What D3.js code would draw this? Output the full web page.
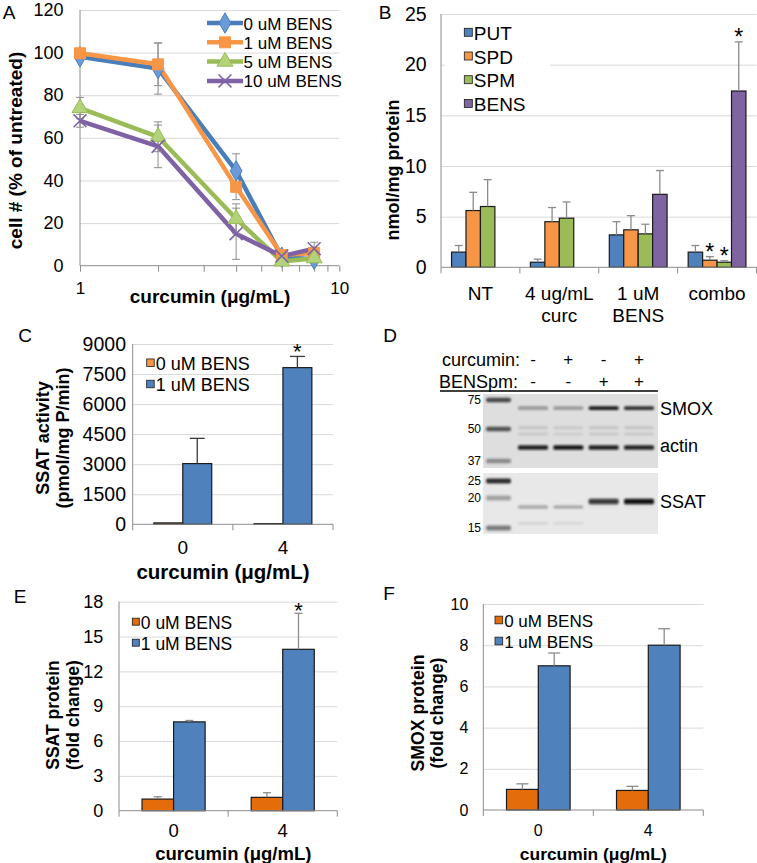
<!DOCTYPE html>
<html><head><meta charset="utf-8">
<script src="https://cdn.jsdelivr.net/npm/d3@7"></script>
<style>
body{margin:0;background:#fff;}
svg{display:block;}
</style></head><body>
<script>
// ================= DATA =================
// Panel A: cell number vs curcumin (log x)
const curcuminA = [1, 2, 4, 6, 8];
const legendA = ["0 uM BENS", "1 uM BENS", "5 uM BENS", "10 uM BENS"];
const cells0 = [98, 92.5, 44.5, 4, 3];
const cells1 = [99.7, 94.5, 37, 5, 6];
const cells5 = [74, 60.5, 22, 2, 3.5];
const cells10 = [68, 56, 15, 4.5, 8];
const cellsErr0 = [1.5, 12, 8, 1.5, 1.5];
const cellsErr1 = [1.5, 10, 6, 1.5, 2];
const cellsErr5 = [5, 7, 7, 1, 1.5];
const cellsErr10 = [3, 10, 12, 1.5, 3];
const yTicksA = [0, 20, 40, 60, 80, 100, 120];
const xTicksA = [1, 2, 3, 4, 5, 6, 7, 8, 9, 10];
const xLabelsA = [1, 10];

// Panel B: polyamine pools
const treatmentsB = [["NT"], ["4 ug/mL", "curc"], ["1 uM", "BENS"], ["combo"]];
const polyaminesB = ["PUT", "SPD", "SPM", "BENS"];
const putB = [1.5, 0.5, 3.2, 1.5];
const spdB = [5.6, 4.5, 3.7, 0.7];
const spmB = [6.0, 4.85, 3.3, 0.5];
const bensB = [null, null, 7.2, 17.4];
const putErrB = [0.65, 0.3, 1.3, 0.65];
const spdErrB = [1.8, 1.4, 1.4, 0.35];
const spmErrB = [2.65, 1.6, 0.95, 0.15];
const bensErrB = [null, null, 2.35, 4.85];
const starsB = [[1, 3], [2, 3], [3, 3]]; // [series, category]
const yTicksB = [0, 5, 10, 15, 20, 25];

// Panel C: SSAT activity
const dosesC = [["0"], ["4"]];
const bensLegend = ["0 uM BENS", "1 uM BENS"];
const ssatAct0 = [70, 30];
const ssatAct1 = [3030, 7820];
const ssatActErr0 = [0, 0];
const ssatActErr1 = [1260, 560];
const starsC = [[1, 1]];
const yTicksC = [0, 1500, 3000, 4500, 6000, 7500, 9000];

// Panel D: western blot (relative band intensity per lane)
const blotLanes = [1, 2, 3, 4];
const curcuminSigns = ["-", "+", "-", "+"];
const bensSigns = ["-", "-", "+", "+"];
const ladderTop = [75, 50, 37];
const ladderBottom = [25, 20, 15];
const ladderTopIntensity = [0.8, 0.75, 0.45];
const ladderBottomIntensity = [0.95, 0.35, 0.55];
const smoxBand = [0.35, 0.3, 0.95, 0.85];
const nonspecA = [0.12, 0.1, 0.12, 0.12];
const nonspecB = [0.1, 0.08, 0.1, 0.1];
const actinBand = [0.92, 0.97, 0.92, 0.9];
const ssatBand = [0, 0, 0.8, 0.97];
const ssatLower = [0.35, 0.3, 0.03, 0.03];
const ssatFaint = [0.1, 0.08, 0, 0];

// Panel E: SSAT protein
const ssatProt0 = [1.0, 1.15];
const ssatProt1 = [7.65, 13.9];
const ssatProtErr0 = [0.2, 0.4];
const ssatProtErr1 = [0.12, 3.1];
const starsE = [[1, 1]];
const yTicksE = [0, 3, 6, 9, 12, 15, 18];

// Panel F: SMOX protein
const smoxProt0 = [1.0, 0.95];
const smoxProt1 = [7.0, 8.0];
const smoxProtErr0 = [0.27, 0.2];
const smoxProtErr1 = [0.62, 0.8];
const yTicksF = [0, 2, 4, 6, 8, 10];

// ================= DRAWING =================
const FONT = '"Liberation Sans", Arial, Helvetica, sans-serif';
const svg = d3.select('body').append('svg').attr('width', 757).attr('height', 863)
  .style('font-family', FONT);
const defs = svg.append('defs');
defs.append('filter').attr('id', 'blur').attr('x', '-20%').attr('y', '-100%').attr('width', '140%').attr('height', '300%')
  .append('feGaussianBlur').attr('stdDeviation', 0.9);

function txt(g, x, y, s, o = {}) {
  return g.append('text').attr('x', x).attr('y', y)
    .attr('font-size', o.size || 18)
    .attr('font-weight', o.bold ? 'bold' : null)
    .attr('text-anchor', o.anchor || 'middle')
    .attr('dominant-baseline', o.base || 'central')
    .attr('fill', o.fill || '#000')
    .attr('transform', o.rot ? `rotate(${o.rot},${x},${y})` : null)
    .text(s);
}
const AXIS = '#8c8c8c', GRID = '#d9d9d9';

// Panel letters
txt(svg, 9, 12, 'A', {size: 19});
txt(svg, 385, 12, 'B', {size: 19});
txt(svg, 25, 335, 'C', {size: 19});
txt(svg, 390, 335, 'D', {size: 19});
txt(svg, 20, 596, 'E', {size: 19});
txt(svg, 389, 593, 'F', {size: 19});

// ---------- Panel A ----------
(function () {
  const L = 80, R = 339.3, T = 10, B = 265.7;
  const g = svg.append('g');
  const x = d3.scaleLog().domain([1, 10]).range([L, R]);
  const y = d3.scaleLinear().domain([0, 120]).range([B, T]);
  g.append('g').attr('transform', `translate(${L},0)`)
    .call(d3.axisLeft(y).tickValues(yTicksA.slice(1)).tickSize(-(R - L)).tickFormat(''))
    .call(a => a.select('.domain').remove())
    .selectAll('line').attr('stroke', GRID);
  const ya = g.append('g').attr('transform', `translate(${L},0)`)
    .call(d3.axisLeft(y).tickValues(yTicksA).tickSize(0).tickPadding(16.5));
  ya.select('.domain').remove();
  ya.attr('font-size', 18).attr('font-family', FONT).selectAll('text').attr('fill', '#000');
  const xa = g.append('g').attr('transform', `translate(0,${B})`)
    .call(d3.axisBottom(x).tickValues(xTicksA).tickSize(6).tickPadding(10)
      .tickFormat(d => xLabelsA.includes(d) ? d : ''));
  xa.select('.domain').remove();
  xa.attr('font-size', 17).attr('font-family', FONT);
  xa.selectAll('line').attr('stroke', AXIS);
  xa.selectAll('text').attr('fill', '#000');
  g.append('line').attr('x1', L).attr('x2', R).attr('y1', B).attr('y2', B).attr('stroke', AXIS);
  g.append('line').attr('x1', L).attr('x2', L).attr('y1', T).attr('y2', B).attr('stroke', AXIS);

  const series = [
    {v: cells0, e: cellsErr0, color: '#4A7EBB', fill: '#6A9BD8', sym: d3.symbolDiamond, size: 120},
    {v: cells1, e: cellsErr1, color: '#F79646', fill: '#F79646', sym: d3.symbolSquare, size: 120},
    {v: cells5, e: cellsErr5, color: '#9BBB59', fill: '#B3D37A', sym: d3.symbolTriangle, size: 110},
    {v: cells10, e: cellsErr10, color: '#7F62A6', fill: 'none', sym: d3.symbolX, size: 110},
  ];
  const line = d3.line().x((d, i) => x(curcuminA[i])).y(d => y(d));
  series.forEach(s => {
    g.append('path').attr('d', line(s.v)).attr('fill', 'none').attr('stroke', s.color)
      .attr('stroke-width', 4.5).attr('stroke-linejoin', 'round');
  });
  series.forEach(s => {
    s.v.forEach((v, i) => {
      const cx = x(curcuminA[i]);
      g.append('line').attr('x1', cx).attr('x2', cx).attr('y1', y(v - s.e[i])).attr('y2', y(v + s.e[i]))
        .attr('stroke', '#8c8c8c').attr('stroke-width', 1);
      [v - s.e[i], v + s.e[i]].forEach(w => g.append('line').attr('x1', cx - 4).attr('x2', cx + 4)
        .attr('y1', y(w)).attr('y2', y(w)).attr('stroke', '#8c8c8c').attr('stroke-width', 1));
    });
  });
  function marker(gg, s, cx, cy) {
    const p = gg.append('path').attr('d', d3.symbol().type(s.sym).size(s.size)())
      .attr('transform', `translate(${cx},${cy})`);
    if (s.fill === 'none') p.attr('fill', 'none').attr('stroke', s.color).attr('stroke-width', 1.6);
    else p.attr('fill', s.fill).attr('stroke', s.color).attr('stroke-width', 1);
  }
  series.forEach(s => s.v.forEach((v, i) => marker(g, s, x(curcuminA[i]), y(v))));

  // legend
  legendA.forEach((name, i) => {
    const ly = 23 + i * 19.3;
    const s = series[i];
    g.append('line').attr('x1', 207).attr('x2', 243).attr('y1', ly).attr('y2', ly)
      .attr('stroke', s.color).attr('stroke-width', 4.5);
    marker(g, s, 225, ly);
    txt(g, 243.5, ly + 1, name, {size: 17, anchor: 'start'});
  });
  txt(g, 15, 150.5, 'cell # (% of untreated)', {size: 19, bold: true, rot: -90});
  txt(g, 210, 296, 'curcumin (μg/mL)', {size: 19, bold: true});
})();

// ---------- generic grouped bar chart ----------
function drawBars(c) {
  const g = svg.append('g');
  const x0 = d3.scaleBand().domain(d3.range(c.cats.length)).range([c.left, c.right]);
  const x1 = d3.scaleBand().domain(c.series).range([0, x0.bandwidth()]).paddingOuter(0.73);
  const y = d3.scaleLinear().domain([0, c.yTicks[c.yTicks.length - 1]]).range([c.y0, c.yTop]);
  g.append('g').attr('transform', `translate(${c.left},0)`)
    .call(d3.axisLeft(y).tickValues(c.yTicks.slice(1)).tickSize(-(c.right - c.left)).tickFormat(''))
    .call(a => a.select('.domain').remove())
    .selectAll('line').attr('stroke', GRID);
  if (c.legendBg) g.append('rect').attr('x', c.legendBg[0]).attr('y', c.legendBg[1])
    .attr('width', c.legendBg[2]).attr('height', c.legendBg[3]).attr('fill', '#fff');
  const ya = g.append('g').attr('transform', `translate(${c.left},0)`)
    .call(d3.axisLeft(y).tickValues(c.yTicks).tickSize(0).tickPadding(c.tickPad).tickFormat(d3.format('d')));
  ya.select('.domain').remove();
  ya.attr('font-size', c.tickFont).attr('font-family', FONT).selectAll('text').attr('fill', '#000');

  c.series.forEach((s, si) => {
    c.data[si].forEach((v, ci) => {
      if (v == null) return;
      g.append('rect').attr('x', x0(ci) + x1(s)).attr('y', y(v))
        .attr('width', x1.bandwidth()).attr('height', y(0) - y(v))
        .attr('fill', c.colors[si]).attr('stroke', '#1a1a1a').attr('stroke-width', 1.2);
    });
  });
  c.series.forEach((s, si) => {
    c.data[si].forEach((v, ci) => {
      const e = c.err[si][ci];
      if (v == null || !e) return;
      const cx = x0(ci) + x1(s) + x1.bandwidth() / 2;
      g.append('line').attr('x1', cx).attr('x2', cx).attr('y1', y(v)).attr('y2', y(v + e))
        .attr('stroke', c.errColor).attr('stroke-width', 1.3);
      g.append('line').attr('x1', cx - c.cap / 2).attr('x2', cx + c.cap / 2).attr('y1', y(v + e)).attr('y2', y(v + e))
        .attr('stroke', c.errColor).attr('stroke-width', 1.3);
    });
  });
  g.append('line').attr('x1', c.left).attr('x2', c.right).attr('y1', c.y0).attr('y2', c.y0).attr('stroke', AXIS);
  g.append('line').attr('x1', c.left).attr('x2', c.left).attr('y1', c.yTop).attr('y2', c.y0).attr('stroke', AXIS);
  d3.range(c.cats.length + 1).forEach(i => {
    const bx = i < c.cats.length ? x0(i) : c.right;
    g.append('line').attr('x1', bx).attr('x2', bx).attr('y1', c.y0).attr('y2', c.y0 + 6).attr('stroke', AXIS);
  });
  c.cats.forEach((lines, ci) => {
    lines.forEach((t, li) => txt(g, x0(ci) + x0.bandwidth() / 2 + (c.catDx || 0), c.catY + li * 22, t, {size: c.catFont}));
  });
  (c.stars || []).forEach(([si, ci]) => {
    const s = c.series[si];
    const cx = x0(ci) + x1(s) + x1.bandwidth() / 2;
    const top = c.data[si][ci] + (c.err[si][ci] || 0);
    txt(g, cx, y(top) + c.starDy, '*', {size: c.starSize || 19, base: 'alphabetic'});
  });
  c.series.forEach((s, si) => {
    const ly = c.legY + si * c.legDy;
    g.append('rect').attr('x', c.legX).attr('y', ly - c.sq / 2).attr('width', c.sq).attr('height', c.sq)
      .attr('fill', c.colors[si]).attr('stroke', '#1a1a1a').attr('stroke-width', 0.8);
    txt(g, c.legX + c.sq + 1.5, ly + 1, s, {size: c.legFont, anchor: 'start'});
  });
  return g;
}

// ---------- Panel B ----------
(function () {
  const g = drawBars({
    cats: treatmentsB, series: polyaminesB, data: [putB, spdB, spmB, bensB],
    err: [putErrB, spdErrB, spmErrB, bensErrB],
    colors: ['#4F81BD', '#F79646', '#9BBB59', '#8064A2'],
    left: 441, right: 756.5, y0: 267.3, yTop: 14, yTicks: yTicksB, tickPad: 14.3, tickFont: 19.5,
    errColor: '#8c8c8c', cap: 8, stars: starsB, starDy: 3, starSize: 23,
    catY: 293.5, catFont: 19, legX: 464.3, legY: 32.3, legDy: 23.7, sq: 8, legFont: 19,
    legendBg: [445, 20, 105, 92]
  });
  txt(g, 393, 170, 'nmol/mg protein', {size: 18, bold: true, rot: -90});
})();

// ---------- Panel C ----------
(function () {
  const g = drawBars({
    cats: dosesC, series: bensLegend, data: [ssatAct0, ssatAct1], err: [ssatActErr0, ssatActErr1],
    colors: ['#F79646', '#4F81BD'],
    left: 132.7, right: 333, y0: 524.3, yTop: 344, yTicks: yTicksC, tickPad: 6.7, tickFont: 19.5,
    errColor: '#3a3a3a', cap: 15, stars: starsC, starDy: 3, starSize: 22,
    catY: 547.5, catFont: 19, legX: 146.7, legY: 362.7, legDy: 21.3, sq: 7.5, legFont: 18
  });
  txt(g, 43.3, 438, 'SSAT activity', {size: 18, bold: true, rot: -90});
  txt(g, 63.3, 438, '(pmol/mg P/min)', {size: 18, bold: true, rot: -90});
  txt(g, 223, 571, 'curcumin (μg/mL)', {size: 20.5, bold: true});
})();

// ---------- Panel E ----------
(function () {
  const g = drawBars({
    cats: dosesC, series: bensLegend, data: [ssatProt0, ssatProt1], err: [ssatProtErr0, ssatProtErr1],
    colors: ['#E46C0A', '#4F81BD'],
    left: 119, right: 337.3, y0: 810.7, yTop: 601.7, yTicks: yTicksE, tickPad: 15.7, tickFont: 18,
    errColor: '#8c8c8c', cap: 8, stars: starsE, starDy: 4.5, starSize: 22,
    catY: 830.5, catFont: 18.5, legX: 132.3, legY: 621.7, legDy: 21, sq: 7, legFont: 17.5
  });
  txt(g, 53.3, 715, 'SSAT protein', {size: 17.5, bold: true, rot: -90});
  txt(g, 72.7, 715, '(fold change)', {size: 17.5, bold: true, rot: -90});
  txt(g, 233.3, 853, 'curcumin (μg/mL)', {size: 18.5, bold: true});
})();

// ---------- Panel F ----------
(function () {
  const g = drawBars({
    cats: dosesC, series: bensLegend, data: [smoxProt0, smoxProt1], err: [smoxProtErr0, smoxProtErr1],
    colors: ['#E46C0A', '#4F81BD'],
    left: 483.3, right: 703.3, y0: 810, yTop: 604, yTicks: yTicksF, tickPad: 15, tickFont: 16,
    errColor: '#8c8c8c', cap: 12,
    catY: 830.5, catFont: 16, legX: 495, legY: 620, legDy: 21, sq: 7.7, legFont: 17
  });
  txt(g, 418.3, 713, 'SMOX protein', {size: 17.7, bold: true, rot: -90});
  txt(g, 437.3, 713, '(fold change)', {size: 17.7, bold: true, rot: -90});
  txt(g, 593.3, 854.3, 'curcumin (μg/mL)', {size: 17.4, bold: true});
})();

// ---------- Panel D (western blot) ----------
(function () {
  const g = svg.append('g');
  const lane = d3.scalePoint().domain(blotLanes).range([533, 639]);
  const yTopGel = d3.scaleLinear().domain([75, 50, 37]).range([400, 429, 461]);
  const yBotGel = d3.scaleLinear().domain([25, 20, 15]).range([481, 498, 528]);
  const laneW = 30;

  txt(g, 520, 360, 'curcumin:', {size: 18, anchor: 'end'});
  txt(g, 518, 382, 'BENSpm:', {size: 18, anchor: 'end'});
  curcuminSigns.forEach((s, i) => txt(g, lane(blotLanes[i]), 359, s, {size: 17}));
  bensSigns.forEach((s, i) => txt(g, lane(blotLanes[i]), 381, s, {size: 17}));
  g.append('line').attr('x1', 440).attr('x2', 658).attr('y1', 391).attr('y2', 391)
    .attr('stroke', '#000').attr('stroke-width', 1.5);

  g.append('rect').attr('x', 483).attr('y', 394).attr('width', 175).attr('height', 74).attr('fill', '#dedede');
  g.append('rect').attr('x', 483).attr('y', 473).attr('width', 175).attr('height', 61).attr('fill', '#e8e8e8');

  const bands = g.append('g').attr('filter', 'url(#blur)');
  ladderTop.forEach((k, i) => bands.append('rect').attr('x', 486).attr('y', yTopGel(k) - 2.2)
    .attr('width', 25).attr('height', 4.4).attr('rx', 2).attr('fill', '#222').attr('opacity', ladderTopIntensity[i]));
  ladderBottom.forEach((k, i) => bands.append('rect').attr('x', 486).attr('y', yBotGel(k) - 2.5)
    .attr('width', 25).attr('height', 5).attr('rx', 2).attr('fill', '#222').attr('opacity', ladderBottomIntensity[i]));

  function laneBands(vals, ky, h) {
    vals.forEach((v, i) => {
      if (!v) return;
      bands.append('rect').attr('x', lane(blotLanes[i]) - laneW / 2).attr('y', ky - h / 2)
        .attr('width', laneW).attr('height', h).attr('rx', 1.5).attr('fill', '#111').attr('opacity', v);
    });
  }
  laneBands(smoxBand, yTopGel(68), 3.6);
  laneBands(nonspecA, yTopGel(51), 3);
  laneBands(nonspecB, yTopGel(48), 3);
  laneBands(actinBand, yTopGel(42.5), 4.5);
  laneBands(ssatBand, yBotGel(19.4), 5.5);
  laneBands(ssatLower, yBotGel(18.5), 3);
  laneBands(ssatFaint, yBotGel(15.8), 2.5);

  ladderTop.forEach(k => txt(g, 481, yTopGel(k), k, {size: 12, anchor: 'end'}));
  ladderBottom.forEach(k => txt(g, 481, yBotGel(k), k, {size: 12, anchor: 'end'}));

  txt(g, 660, yTopGel(68) + 1, 'SMOX', {size: 18, anchor: 'start'});
  txt(g, 660, yTopGel(42.5) - 1, 'actin', {size: 18, anchor: 'start'});
  txt(g, 660, yBotGel(19.4), 'SSAT', {size: 18, anchor: 'start'});
})();
</script></body></html>
